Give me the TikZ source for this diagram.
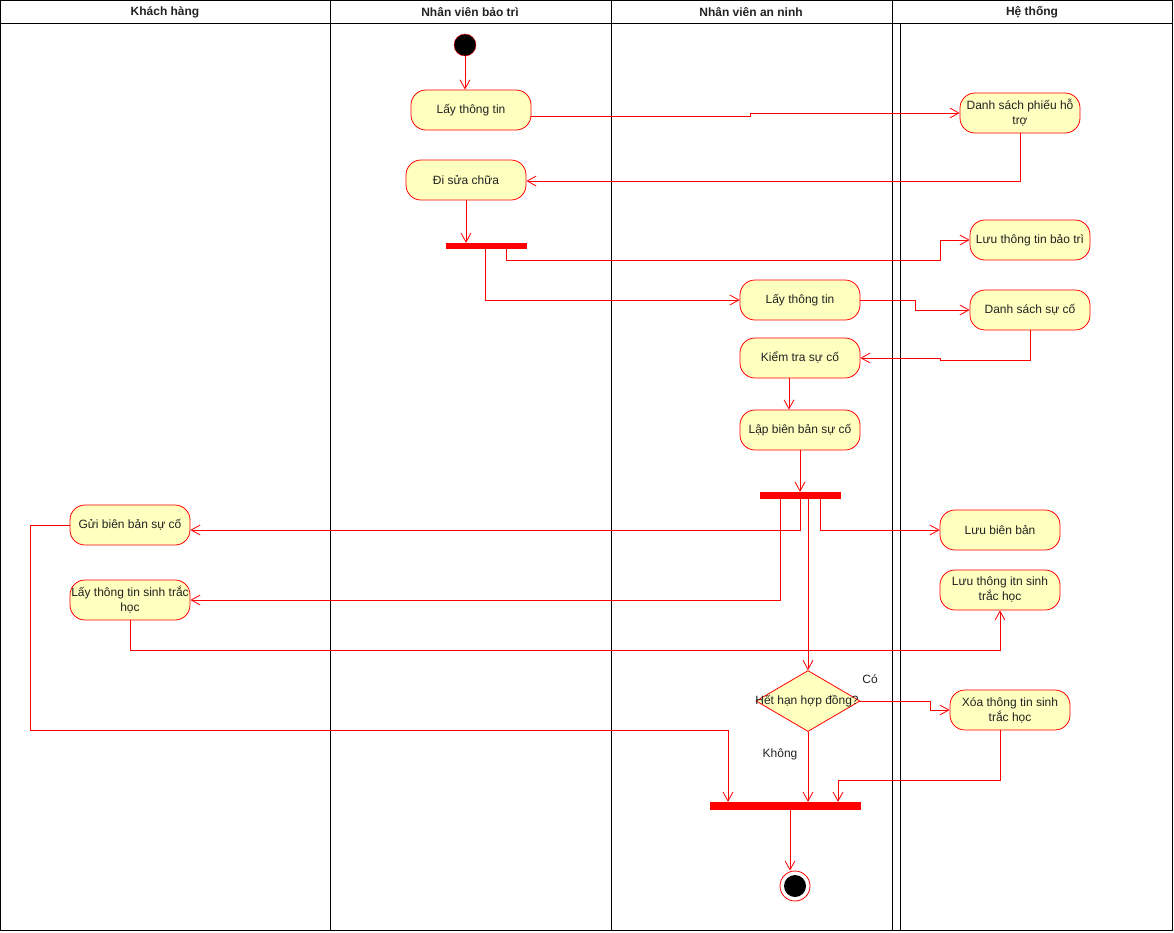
\documentclass[tikz,border=0pt]{standalone}
\usepackage{fontspec}
\setmainfont{Liberation Sans}
\usetikzlibrary{arrows.meta,shapes.geometric}
\definecolor{actfill}{HTML}{FFFFC0}
\definecolor{txt}{HTML}{222222}
\tikzset{
  act/.style={draw=red, fill=actfill, line width=0.8pt, rounded corners=15pt,
    minimum width=120pt, minimum height=40pt, inner sep=0pt, align=center, text=txt,
    font=\fontsize{12}{15}\selectfont},
  bar/.style={draw=red, fill=red, inner sep=0pt, minimum height=5pt},
  edge/.style={draw=red, line width=0.8pt, -{Straight Barb[length=9pt,width=10pt]}},
  lane/.style={draw=black, line width=0.9pt},
  hdr/.style={font=\bfseries\fontsize{12}{14}\selectfont, text=txt},
  lbl/.style={font=\fontsize{12}{14}\selectfont, text=txt}
}
\begin{document}
\begin{tikzpicture}[x=1pt,y=-1pt]
\useasboundingbox (0,0) rectangle (1174,932);
% swimlanes
\draw[lane] (0.5,0.5) rectangle (1172,930);
\draw[lane] (0.5,23) -- (1172,23);
\draw[lane] (330,0.5) -- (330,930);
\draw[lane] (611,0.5) -- (611,930);
\draw[lane] (892,0.5) -- (892,930);
\draw[lane] (900,23) -- (900,930);
\node[hdr] (h1) at (165,12.5) {Khách hàng};
\node[hdr] (h2) at (470,12.5) {Nhân viên bảo trì};
\node[hdr] (h3) at (751,12.5) {Nhân viên an ninh};
\node[hdr] (h4) at (1032,12.5) {Hệ thống};
% nodes
\node[circle, draw=red, fill=black, minimum size=22pt, inner sep=0pt] (st) at (465,45) {};
\node[act] (A1) at (471,110) {Lấy thông tin};
\node[act] (A2) at (466,180) {Đi sửa chữa};
\node[bar, minimum width=80pt] (F1) at (486,245.5) {};
\node[act] (S1) at (1020,113) {Danh sách phiếu hỗ\\trợ};
\node[act] (S2) at (1030,240) {Lưu thông tin bảo trì};
\node[act] (B1) at (800,300) {Lấy thông tin};
\node[act] (S3) at (1030,310) {Danh sách sự cố};
\node[act] (B2) at (800,358) {Kiểm tra sự cố};
\node[act] (B3) at (800,430) {Lập biên bản sự cố};
\node[bar, minimum width=80pt, minimum height=6pt] (F2) at (800,495) {};
\node[act] (S4) at (1000,530) {Lưu biên bản};
\node[act] (S5) at (1000,590) {Lưu thông itn sinh\\trắc học};
\node[act] (C1) at (130,525) {Gửi biên bản sự cố};
\node[act] (C2) at (130,600) {Lấy thông tin sinh trắc\\học};
\node[diamond, draw=red, fill=actfill, line width=0.8pt, minimum width=104pt, minimum height=61pt, inner sep=0pt] (D) at (808,701) {};
\node[lbl] (Dt) at (807,701) {Hết hạn hợp đồng?};
\node[act] (S6) at (1010,710) {Xóa thông tin sinh\\trắc học};
\node[bar, minimum width=150pt, minimum height=7pt] (J) at (785,805.5) {};
\node[circle, draw=red, fill=white, line width=0.8pt, minimum size=30pt, inner sep=0pt] (E) at (795,886) {};
\node[circle, fill=black, minimum size=22pt, inner sep=0pt] (Ei) at (795,886) {};
\node[lbl] (lco) at (870,679) {Có};
\node[lbl] (lkh) at (780,754) {Không};
% connectors
\draw[edge] (st.south) -- (st.south |- A1.north);
\draw[edge] ([yshift=-6pt]A1.east) -- ++(219,0) |- (S1.west);
\draw[edge] (S1.south) |- ([yshift=-1pt]A2.east);
\draw[edge] (A2.south) -- (A2.south |- F1.north);
\draw[edge] ([xshift=20pt]F1.south) |- (940,260) |- (S2.west);
\draw[edge] ([xshift=-1pt]F1.south) |- (B1.west);
\draw[edge] (B1.east) -- ++(55,0) |- (S3.west);
\draw[edge] (S3.south) |- (940,360) |- (B2.east);
\draw[edge] ([xshift=-11pt]B2.south) -- ([xshift=-11pt]B2.south |- B3.north);
\draw[edge] (B3.south) -- (F2.north);
\draw[edge] (F2.south) |- ([yshift=-5pt]C1.east);
\draw[edge] ([xshift=-20pt]F2.south) |- (C2.east);
\draw[edge] ([xshift=20pt]F2.south) |- (S4.west);
\draw[edge] ([xshift=8pt]F2.south) -- (D.north);
\draw[edge] (C2.south) -- ++(0,30) -| (S5.south);
\draw[edge] (C1.west) -| (30,730) -| ([xshift=-57pt]J.north);
\draw[edge] (D.east) -- ++(70,0) |- (S6.west);
\draw[edge] (D.south) -- (D.south |- J.north);
\draw[edge] ([xshift=-10pt]S6.south) -- ++(0,50) -| ([xshift=53pt]J.north);
\draw[edge] ([xshift=5pt]J.south) -- ([xshift=-5pt]E.north);
\end{tikzpicture}
\end{document}
